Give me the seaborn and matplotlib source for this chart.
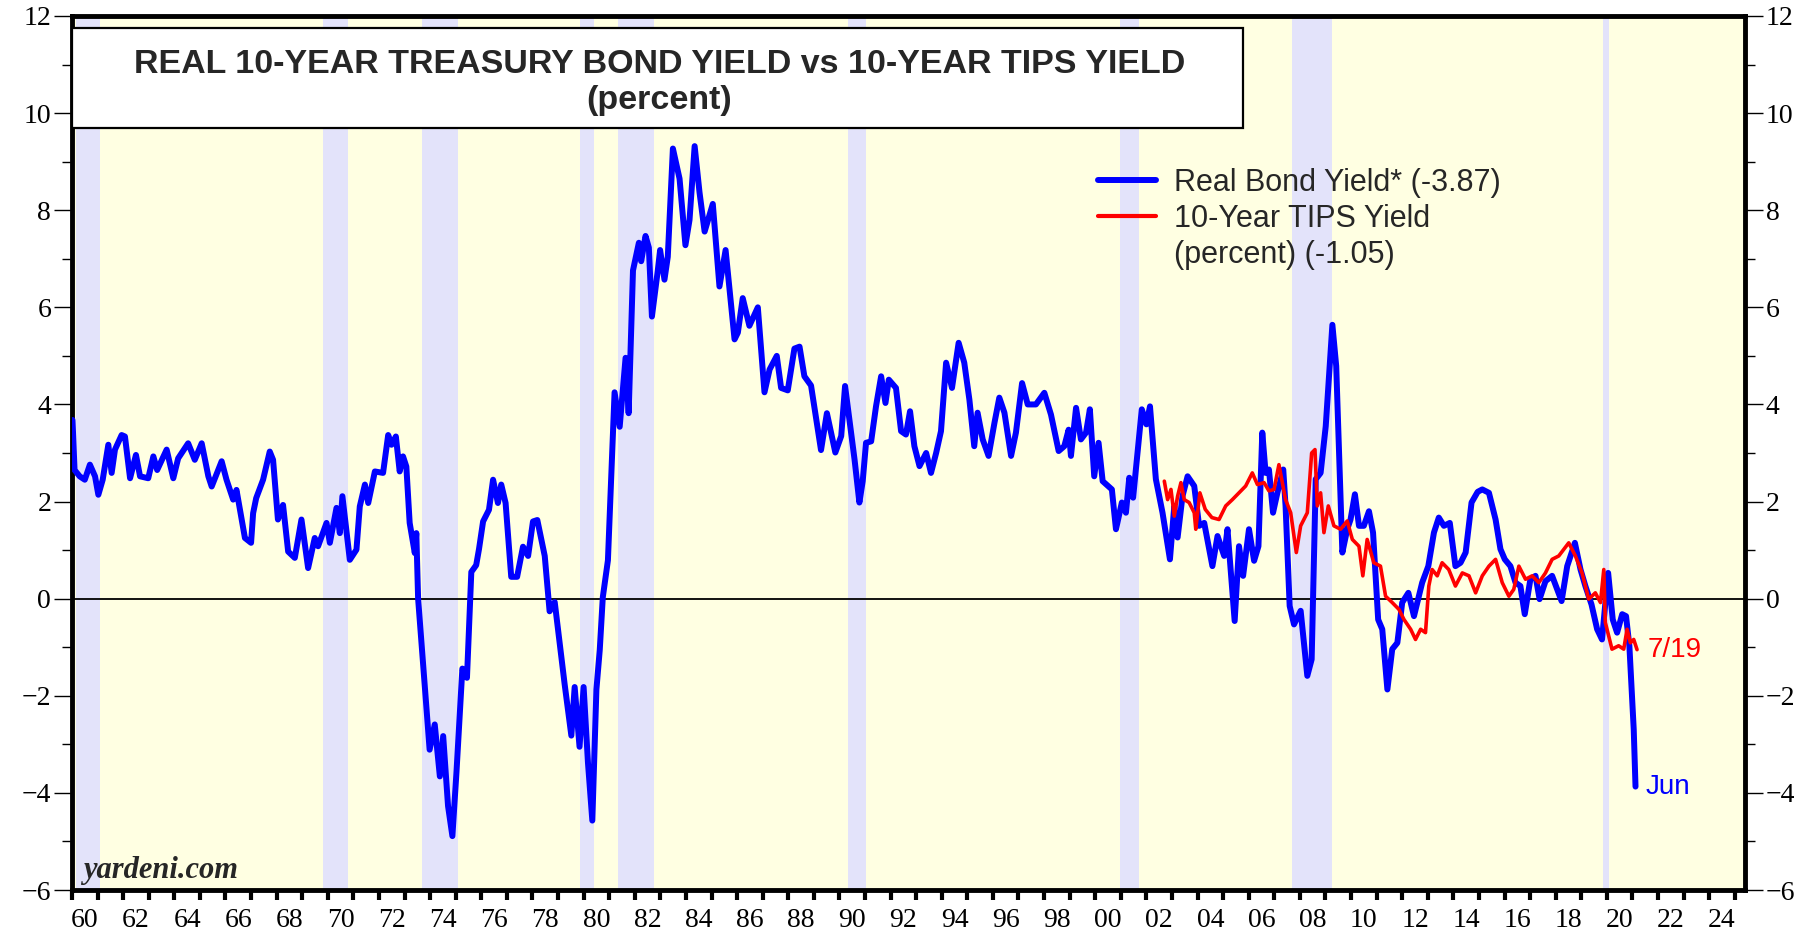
import matplotlib
matplotlib.use("Agg")
import matplotlib.pyplot as plt
from matplotlib.lines import Line2D
from matplotlib.patches import Rectangle
from matplotlib.ticker import MultipleLocator, NullFormatter
import pandas as pd
import seaborn as sns

# real 10-year treasury bond yield (blue)
REAL_YEARS = [
    1960.02, 1960.1, 1960.3, 1960.5, 1960.7, 1960.9, 1961.03, 1961.2, 1961.42, 1961.55,
    1961.68, 1961.94, 1962.07, 1962.27, 1962.5, 1962.66, 1962.98, 1963.18, 1963.33, 1963.7,
    1963.96, 1964.15, 1964.54, 1964.8, 1965.07, 1965.33, 1965.46, 1965.85, 1966.04, 1966.3,
    1966.43, 1966.76, 1967.0, 1967.08, 1967.2, 1967.47, 1967.73, 1967.86, 1968.05, 1968.25,
    1968.45, 1968.71, 1968.97, 1969.23, 1969.49, 1969.62, 1969.95, 1970.08, 1970.34, 1970.47,
    1970.57, 1970.86, 1971.12, 1971.25, 1971.45, 1971.58, 1971.84, 1972.16, 1972.36, 1972.49,
    1972.66, 1972.81, 1972.94, 1973.07, 1973.2, 1973.4, 1973.46, 1973.53, 1973.72, 1973.98,
    1974.18, 1974.38, 1974.51, 1974.7, 1974.87, 1975.03, 1975.26, 1975.44, 1975.61, 1975.8,
    1975.91, 1976.07, 1976.3, 1976.46, 1976.65, 1976.78, 1976.95, 1977.17, 1977.4, 1977.63,
    1977.83, 1978.02, 1978.19, 1978.48, 1978.67, 1978.87, 1979.0, 1979.26, 1979.52, 1979.65,
    1979.84, 1980.0, 1980.17, 1980.34, 1980.5, 1980.63, 1980.75, 1980.95, 1981.21, 1981.41,
    1981.64, 1981.76, 1981.93, 1982.16, 1982.25, 1982.42, 1982.55, 1982.67, 1982.9, 1982.99,
    1983.16, 1983.29, 1983.49, 1983.75, 1983.98, 1984.14, 1984.34, 1984.53, 1984.73, 1985.05,
    1985.31, 1985.55, 1985.9, 1986.03, 1986.22, 1986.48, 1986.81, 1987.07, 1987.27, 1987.55,
    1987.72, 1987.98, 1988.24, 1988.44, 1988.63, 1988.89, 1989.28, 1989.51, 1989.84, 1990.07,
    1990.22, 1990.39, 1990.59, 1990.78, 1990.91, 1991.04, 1991.24, 1991.43, 1991.63, 1991.8,
    1991.93, 1992.21, 1992.41, 1992.6, 1992.76, 1992.93, 1993.13, 1993.39, 1993.58, 1993.78,
    1993.97, 1994.17, 1994.4, 1994.66, 1994.88, 1995.08, 1995.27, 1995.4, 1995.6, 1995.83,
    1996.06, 1996.25, 1996.45, 1996.71, 1996.9, 1997.14, 1997.36, 1997.68, 1998.01, 1998.27,
    1998.57, 1998.79, 1998.96, 1999.05, 1999.25, 1999.44, 1999.64, 1999.79, 1999.96, 2000.13,
    2000.29, 2000.65, 2000.81, 2001.04, 2001.2, 2001.33, 2001.48, 2001.82, 2002.0, 2002.14,
    2002.37, 2002.63, 2002.92, 2003.09, 2003.22, 2003.41, 2003.61, 2003.87, 2004.06, 2004.26,
    2004.58, 2004.78, 2005.04, 2005.17, 2005.45, 2005.62, 2005.78, 2006.01, 2006.21, 2006.38,
    2006.53, 2006.66, 2006.79, 2006.95, 2007.12, 2007.35, 2007.44, 2007.6, 2007.77, 2008.03,
    2008.29, 2008.46, 2008.62, 2008.81, 2009.01, 2009.27, 2009.42, 2009.66, 2009.85, 2009.98,
    2010.15, 2010.31, 2010.5, 2010.7, 2010.86, 2011.06, 2011.22, 2011.42, 2011.61, 2011.81,
    2012.0, 2012.24, 2012.46, 2012.78, 2013.02, 2013.24, 2013.43, 2013.63, 2013.86, 2014.08,
    2014.28, 2014.48, 2014.71, 2014.95, 2015.13, 2015.39, 2015.65, 2015.84, 2016.01, 2016.23,
    2016.43, 2016.62, 2016.79, 2017.01, 2017.21, 2017.37, 2017.6, 2017.86, 2018.23, 2018.45,
    2018.75, 2018.97, 2019.16, 2019.4, 2019.62, 2019.81, 2020.05, 2020.23, 2020.4, 2020.6,
    2020.75, 2020.88, 2021.05, 2021.12,
]
REAL_VALUES = [
    3.68, 2.65, 2.52, 2.45, 2.76, 2.52, 2.14, 2.45, 3.17, 2.59,
    3.07, 3.37, 3.34, 2.48, 2.96, 2.52, 2.48, 2.93, 2.65, 3.07,
    2.48, 2.89, 3.2, 2.86, 3.2, 2.52, 2.31, 2.83, 2.45, 2.04,
    2.24, 1.25, 1.15, 1.76, 2.07, 2.45, 3.03, 2.86, 1.63, 1.93,
    0.97, 0.84, 1.63, 0.63, 1.25, 1.08, 1.56, 1.15, 1.87, 1.35,
    2.11, 0.8, 1.01, 1.9, 2.35, 1.97, 2.62, 2.59, 3.37, 3.17,
    3.34, 2.62, 2.93, 2.72, 1.56, 0.94, 1.35, 0.0, -1.32, -3.11,
    -2.59, -3.66, -2.83, -4.27, -4.89, -3.57, -1.44, -1.63, 0.55, 0.69,
    1.02, 1.59, 1.83, 2.45, 1.97, 2.35, 1.97, 0.45, 0.45, 1.07,
    0.88, 1.59, 1.62, 0.88, -0.26, -0.07, -0.64, -1.77, -2.82, -1.82,
    -3.05, -1.82, -3.38, -4.57, -1.87, -1.06, 0.03, 0.79, 4.25, 3.54,
    4.96, 3.82, 6.76, 7.33, 6.95, 7.47, 7.23, 5.81, 6.76, 7.18,
    6.57, 7.04, 9.27, 8.65, 7.28, 7.8, 9.32, 8.37, 7.56, 8.13,
    6.43, 7.18, 5.34, 5.48, 6.19, 5.62, 6.0, 4.25, 4.72, 5.0,
    4.34, 4.29, 5.15, 5.19, 4.58, 4.39, 3.06, 3.82, 3.01, 3.35,
    4.38, 3.69, 2.87, 1.98, 2.42, 3.21, 3.24, 3.96, 4.58, 4.03,
    4.51, 4.34, 3.45, 3.38, 3.86, 3.14, 2.73, 3.0, 2.59, 3.0,
    3.45, 4.86, 4.34, 5.27, 4.86, 4.1, 3.14, 3.83, 3.28, 2.94,
    3.62, 4.14, 3.83, 2.94, 3.42, 4.44, 4.0, 4.0, 4.24, 3.79,
    3.04, 3.14, 3.48, 2.94, 3.93, 3.28, 3.42, 3.9, 2.52, 3.21,
    2.42, 2.25, 1.43, 1.98, 1.77, 2.49, 2.08, 3.9, 3.59, 3.96,
    2.46, 1.77, 0.81, 1.91, 1.26, 2.11, 2.52, 2.32, 1.5, 1.56,
    0.67, 1.29, 0.88, 1.43, -0.46, 1.08, 0.47, 1.43, 0.78, 1.08,
    3.42, 2.59, 2.66, 1.77, 2.18, 2.66, 1.91, -0.15, -0.53, -0.25,
    -1.59, -1.25, 2.46, 2.59, 3.55, 5.64, 4.79, 0.95, 1.43, 1.63,
    2.15, 1.5, 1.5, 1.8, 1.36, -0.43, -0.63, -1.87, -1.04, -0.91,
    -0.08, 0.12, -0.36, 0.33, 0.67, 1.36, 1.67, 1.5, 1.56, 0.67,
    0.74, 0.95, 1.98, 2.2, 2.25, 2.18, 1.63, 1.02, 0.81, 0.67,
    0.33, 0.26, -0.32, 0.4, 0.47, -0.01, 0.36, 0.47, -0.05, 0.67,
    1.15, 0.6, 0.26, -0.12, -0.63, -0.84, 0.53, -0.43, -0.7, -0.32,
    -0.36, -0.97, -2.69, -3.87,
]

# 10-year TIPS yield (red)
TIPS_YEARS = [
    2002.7, 2002.83, 2002.96, 2003.09, 2003.22, 2003.35, 2003.48, 2003.67, 2003.87, 2003.93,
    2004.09, 2004.3, 2004.56, 2004.84, 2005.1, 2005.36, 2005.62, 2005.88, 2006.14, 2006.34,
    2006.6, 2006.79, 2006.99, 2007.18, 2007.44, 2007.64, 2007.86, 2008.03, 2008.29, 2008.46,
    2008.59, 2008.68, 2008.81, 2008.94, 2009.11, 2009.33, 2009.59, 2009.85, 2010.05, 2010.31,
    2010.46, 2010.63, 2010.89, 2011.15, 2011.35, 2011.61, 2011.87, 2012.07, 2012.33, 2012.52,
    2012.72, 2012.91, 2013.04, 2013.17, 2013.37, 2013.56, 2013.82, 2014.08, 2014.35, 2014.61,
    2014.87, 2015.13, 2015.39, 2015.65, 2015.91, 2016.17, 2016.36, 2016.56, 2016.82, 2017.08,
    2017.34, 2017.6, 2017.86, 2018.12, 2018.51, 2018.77, 2019.03, 2019.29, 2019.55, 2019.75,
    2019.88, 2019.94, 2020.2, 2020.46, 2020.66, 2020.79, 2020.92, 2021.05, 2021.18,
]
TIPS_VALUES = [
    2.42, 2.04, 2.25, 1.7, 2.11, 2.39, 2.04, 1.98, 1.77, 1.43,
    2.18, 1.84, 1.67, 1.63, 1.91, 2.04, 2.18, 2.32, 2.59, 2.35,
    2.39, 2.22, 2.25, 2.76, 2.04, 1.77, 0.95, 1.5, 1.77, 3.0,
    3.07, 1.91, 2.18, 1.36, 1.91, 1.5, 1.43, 1.6, 1.22, 1.08,
    0.47, 1.22, 0.74, 0.67, 0.05, -0.08, -0.22, -0.43, -0.63, -0.84,
    -0.63, -0.7, 0.26, 0.6, 0.47, 0.74, 0.6, 0.26, 0.53, 0.47,
    0.12, 0.47, 0.67, 0.81, 0.33, 0.05, 0.19, 0.67, 0.4, 0.47,
    0.33, 0.53, 0.81, 0.88, 1.15, 0.88, 0.53, -0.01, 0.12, -0.08,
    0.6, -0.49, -1.04, -0.97, -1.04, -0.63, -0.91, -0.84, -1.05,
]

# recession bands (start, end) as drawn on the chart
REC_START = [1960.15, 1969.8, 1973.7, 1979.85, 1981.35, 1990.35, 2000.95, 2007.7, 2019.85]
REC_END = [1961.1, 1970.8, 1975.1, 1980.4, 1982.75, 1991.05, 2001.7, 2009.25, 2020.1]

REAL_LABEL = "Real Bond Yield* (-3.87)"
TIPS_LABEL = "10-Year TIPS Yield"
TIPS_LABEL_2 = "(percent) (-1.05)"

SANS = ["Liberation Sans", "DejaVu Sans"]


def main() -> None:
    sns.set_theme(style="ticks")
    plt.rcParams["font.family"] = ["Liberation Serif", "DejaVu Serif"]

    fig = plt.figure(figsize=(18.15, 9.39), dpi=100)
    ax = fig.add_axes([72 / 1815, 49 / 939, 1673 / 1815, 874 / 939])
    ax.set_facecolor("#FFFFE2")

    for s, e in zip(REC_START, REC_END):
        ax.axvspan(s, e, color="#E3E3FA", lw=0, zorder=0)
    ax.axhline(0, color="black", lw=1.3, zorder=1)

    real = pd.DataFrame({"year": REAL_YEARS, "value": REAL_VALUES})
    tips = pd.DataFrame({"year": TIPS_YEARS, "value": TIPS_VALUES})
    sns.lineplot(data=real, x="year", y="value", color="blue", lw=4.3,
                 sort=False, estimator=None, ax=ax, zorder=3)
    sns.lineplot(data=tips, x="year", y="value", color="red", lw=2.6,
                 sort=False, estimator=None, ax=ax, zorder=4)

    ax.set_xlim(1960, 2025.4)
    ax.set_ylim(-6, 12)
    ax.set_xlabel("")
    ax.set_ylabel("")

    for sp in ax.spines.values():
        sp.set_visible(True)
        sp.set_linewidth(3.5)
        sp.set_color("black")

    # x axis: a tick each year, labels on even years centred mid-year
    ax.xaxis.set_major_locator(MultipleLocator(1))
    ax.xaxis.set_major_formatter(NullFormatter())
    lab_pos = [y + 0.5 for y in range(1960, 2025, 2)]
    ax.set_xticks(lab_pos, [f"{y % 100:02d}" for y in range(1960, 2025, 2)], minor=True)
    ax.tick_params(axis="x", which="major", length=7, width=3, color="black", direction="out")
    ax.tick_params(axis="x", which="minor", length=0, pad=13, labelsize=20, labelcolor="black")

    ax.set_yticks(range(-6, 13, 2))
    ax.yaxis.set_minor_locator(MultipleLocator(1))
    ax.tick_params(axis="y", which="both", left=True, right=True,
                   labelleft=True, labelright=True, direction="out", color="black")
    ax.tick_params(axis="y", which="major", length=13, width=1, labelsize=20, pad=2,
                   labelcolor="black")
    ax.tick_params(axis="y", which="minor", length=7, width=1)

    # title box
    ax.add_patch(Rectangle((0, 0.872), 0.70, 0.114, transform=ax.transAxes,
                           facecolor="white", edgecolor="black", lw=1.6, zorder=5))
    ax.text(0.351, 0.944, "REAL 10-YEAR TREASURY BOND YIELD vs 10-YEAR TIPS YIELD",
            transform=ax.transAxes, ha="center", va="center", fontsize=24.5,
            fontweight="bold", family=SANS, zorder=6)
    ax.text(0.351, 0.903, "(percent)", transform=ax.transAxes, ha="center", va="center",
            fontsize=24.5, fontweight="bold", family=SANS, zorder=6)

    handles = [
        Line2D([], [], color="blue", lw=4.3, solid_capstyle="round"),
        Line2D([], [], color="red", lw=3),
        Line2D([], [], color="none"),
    ]
    ax.legend(handles, [REAL_LABEL, TIPS_LABEL, TIPS_LABEL_2], loc="upper left",
              bbox_to_anchor=(0.613, 0.8265), frameon=False, borderpad=0, borderaxespad=0,
              handlelength=1.9, handletextpad=0.6, labelspacing=0.2,
              prop={"family": SANS, "size": 22})

    ax.text(0.0066, 0.014, "yardeni.com", transform=ax.transAxes, fontsize=22,
            fontstyle="italic", fontweight="bold", va="baseline", ha="left")

    ax.text(REAL_YEARS[-1] + 0.4, REAL_VALUES[-1], "Jun", color="blue", fontsize=20,
            family=SANS, va="center", ha="left")
    ax.text(TIPS_YEARS[-1] + 0.4, TIPS_VALUES[-1], "7/19", color="red", fontsize=20,
            family=SANS, va="center", ha="left")

    fig.savefig("out.png", dpi=100)


if __name__ == "__main__":
    main()
